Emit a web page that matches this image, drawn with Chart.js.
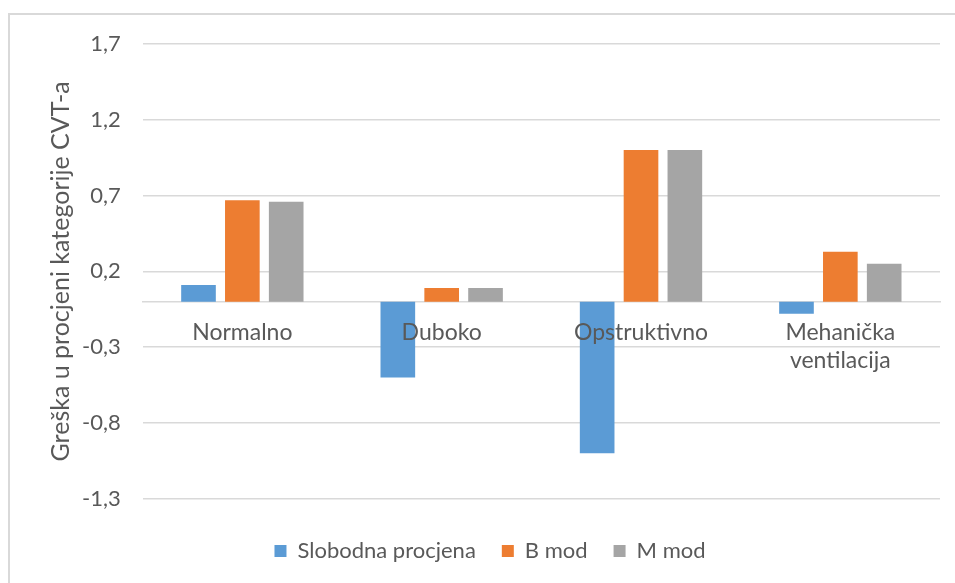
<!DOCTYPE html>
<html lang="hr">
<head>
  <meta charset="UTF-8">
  <title>Greška u procjeni kategorije CVT-a</title>
  <style>
    body { margin: 0; background: #fff; }
    #frame { position: absolute; left: 8px; top: 13px; width: 947px; height: 570px;
             border-left: 2px solid #d9d9d9; border-top: 2px solid #d9d9d9; }
    #wrap { position: absolute; left: 0; top: 0; width: 955px; height: 583px; }
  </style>
</head>
<body>
  <div id="frame"></div>
  <div id="wrap"><canvas id="chart" width="955" height="583"></canvas></div>

  <script src="https://cdn.jsdelivr.net/npm/chart.js"></script>
  <script>
    // podaci
    const categories = ['Normalno', 'Duboko', 'Opstruktivno', ['Mehanička', 'ventilacija']];
    const slobodna = [0.11, -0.5, -1.0, -0.08];
    const bMod = [0.67, 0.09, 1.0, 0.33];
    const mMod = [0.66, 0.09, 1.0, 0.25];
    const yTicks = [-1.3, -0.8, -0.3, 0.2, 0.7, 1.2, 1.7];

    const textColor = '#595959';
    const gridColor = '#d9d9d9';
    const font = 'Lato, "Open Sans", sans-serif';

    const ctx = document.getElementById('chart').getContext('2d');
    new Chart(ctx, {
      type: 'bar',
      data: {
        labels: categories,
        datasets: [
          { label: 'Slobodna procjena', data: slobodna, backgroundColor: '#5B9BD5' },
          { label: 'B mod', data: bMod, backgroundColor: '#ED7D31' },
          { label: 'M mod', data: mMod, backgroundColor: '#A5A5A5' }
        ]
      },
      options: {
        responsive: false,
        animation: false,
        categoryPercentage: 0.66,
        barPercentage: 0.79,
        layout: { padding: { left: 40, right: 15, top: 44, bottom: 11 } },
        plugins: {
          tooltip: { enabled: false },
          legend: {
            position: 'bottom',
            title: { display: true, text: '', font: { size: 1 }, padding: 7 },
            labels: {
              boxWidth: 12, boxHeight: 12, padding: 26,
              color: textColor, font: { family: font, size: 22 }
            }
          }
        },
        scales: {
          x: {
            position: { y: 0 },
            grid: { display: false },
            border: { display: true, color: gridColor, width: 1.5 },
            ticks: {
              z: 1, color: textColor, font: { family: font, size: 23, lineHeight: 1.25 },
              padding: 8, maxRotation: 0
            }
          },
          y: {
            min: -1.3,
            max: 1.7,
            afterBuildTicks: (scale) => { scale.ticks = yTicks.map(v => ({ value: v })); },
            grid: { color: gridColor, lineWidth: 1.5, drawTicks: false },
            border: { display: false },
            ticks: {
              color: textColor, font: { family: font, size: 22 }, padding: 22,
              callback: (v) => v.toFixed(1).replace('.', ',')
            },
            title: {
              display: true, text: 'Greška u procjeni kategorije CVT-a',
              color: textColor, font: { family: font, size: 25 }, padding: { top: 6, bottom: -16 }
            }
          }
        }
      }
    });
  </script>
</body>
</html>
